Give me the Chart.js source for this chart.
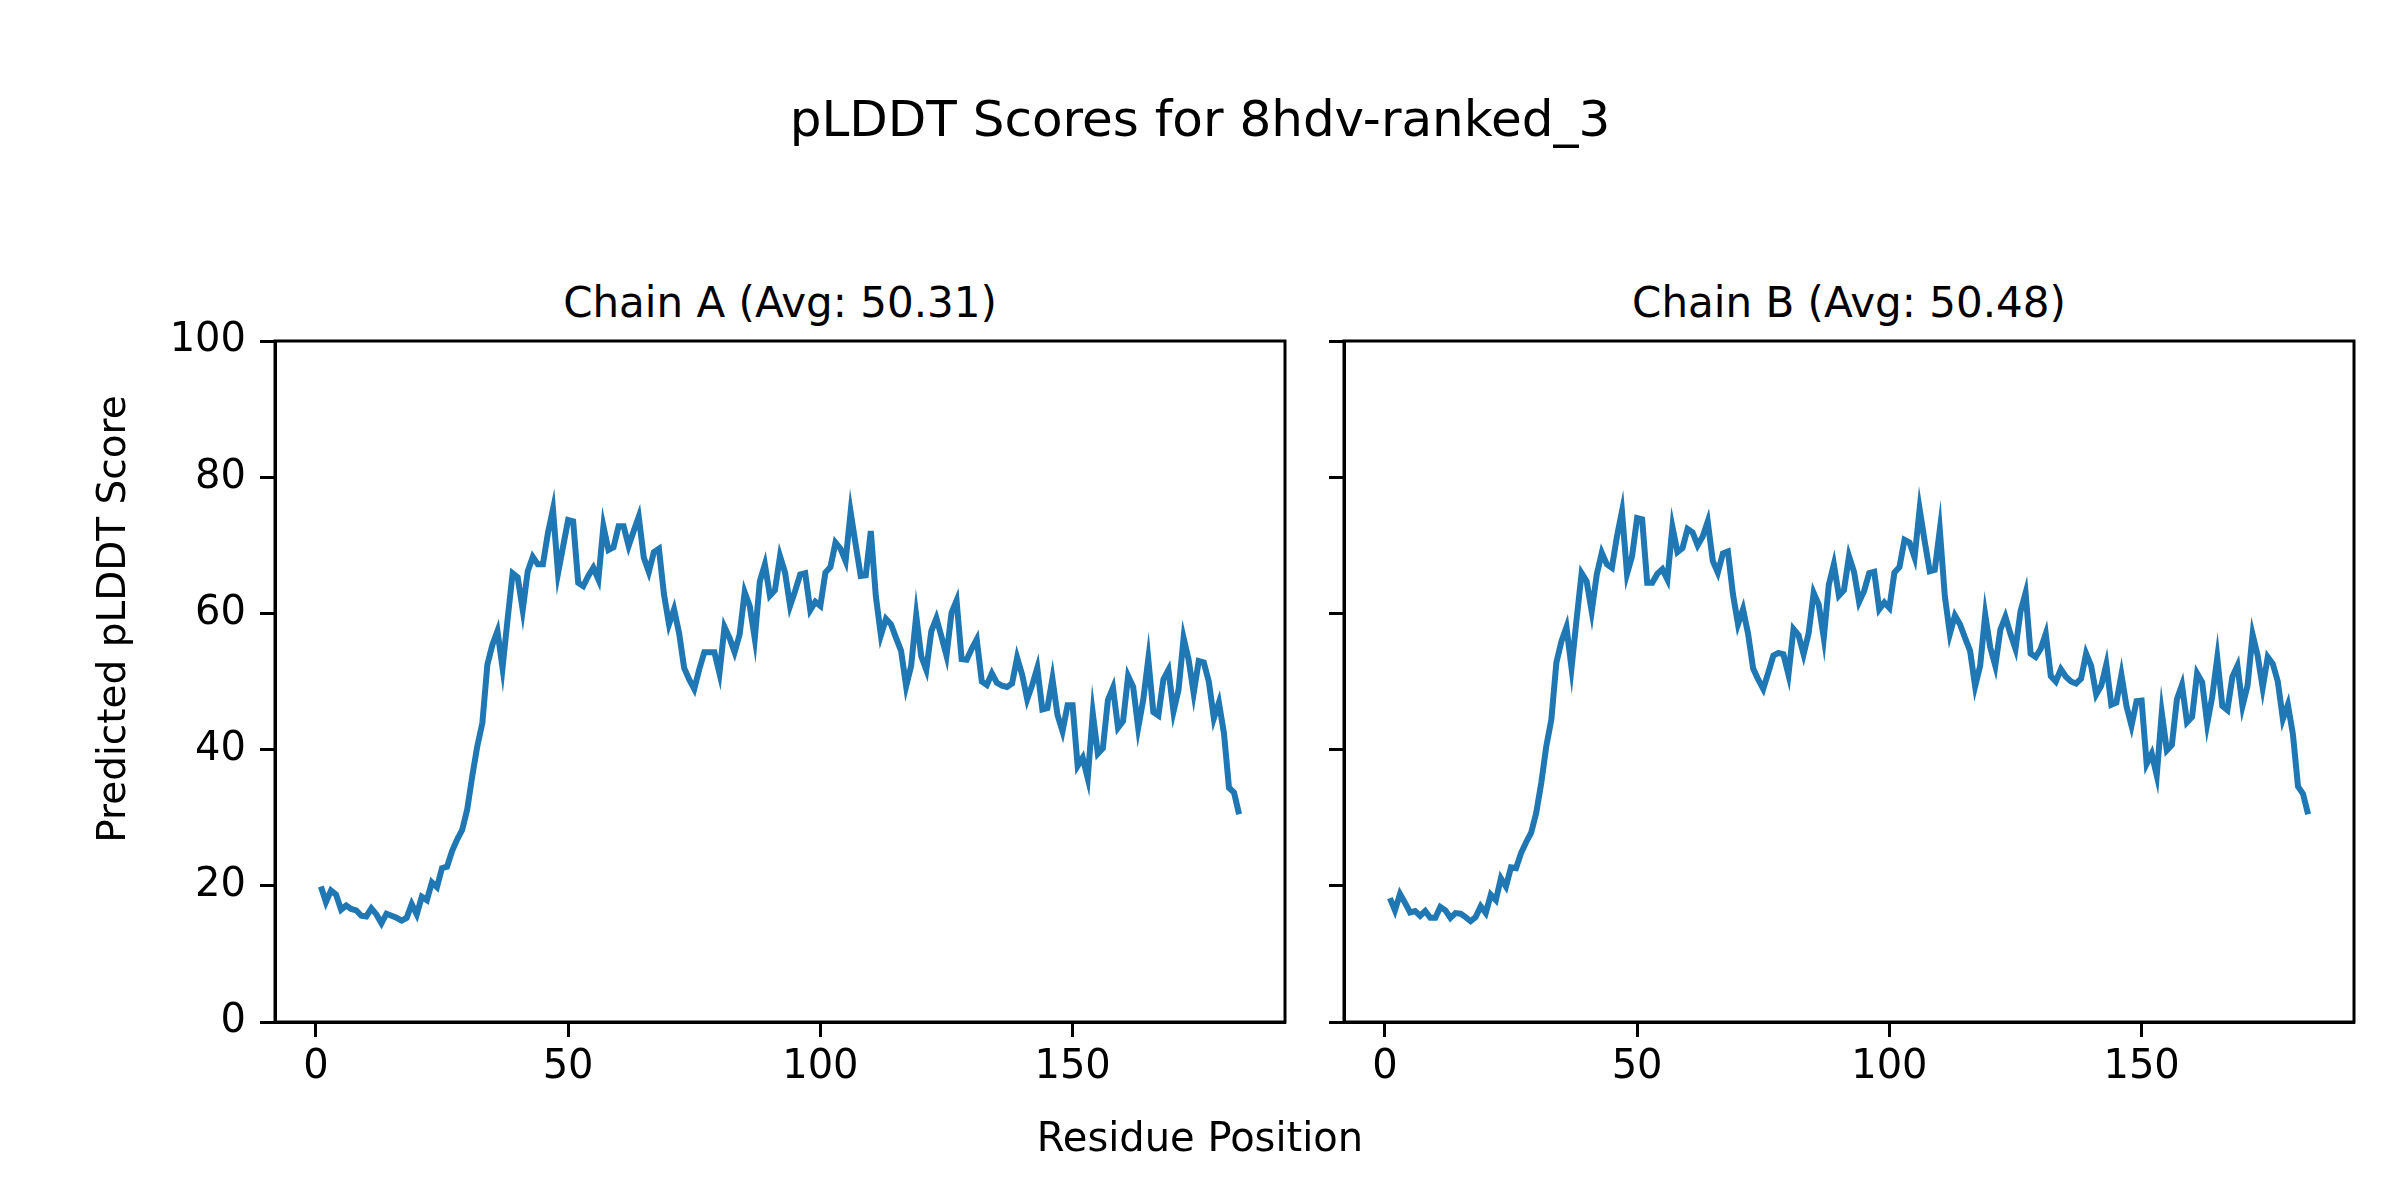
<!DOCTYPE html>
<html>
<head>
<meta charset="utf-8">
<script src="https://cdn.jsdelivr.net/npm/chart.js@4.4.1/dist/chart.umd.min.js"></script>
<style>
  body { margin: 0; background: #ffffff; width: 2400px; height: 1200px; position: relative; overflow: hidden; font-family: "DejaVu Sans", sans-serif; color: #000; }
  canvas { position: absolute; top: 0; }
  #chartA { left: 0; }
  #chartB { left: 1310px; }
  .txt { position: absolute; text-align: center; white-space: nowrap; }
  #suptitle { left: 0; width: 2400px; top: 89px; line-height: 60px; font-size: 50px; }
  .sub { width: 800px; top: 278px; line-height: 50px; font-size: 42px; }
  #titleA { left: 380px; }
  #titleB { left: 1449px; }
  #xlabel { left: 0; width: 2400px; top: 1112px; line-height: 50px; font-size: 40px; }
  #ylabel { left: -288px; width: 800px; top: 594px; line-height: 50px; font-size: 39px; transform: rotate(-90deg); }
</style>
</head>
<body>
<div id="suptitle" class="txt">pLDDT Scores for 8hdv-ranked_3</div>
<div id="titleA" class="txt sub">Chain A (Avg: 50.31)</div>
<div id="titleB" class="txt sub">Chain B (Avg: 50.48)</div>
<canvas id="chartA" width="1310" height="1200"></canvas>
<canvas id="chartB" width="1090" height="1200"></canvas>
<div id="xlabel" class="txt">Residue Position</div>
<div id="ylabel" class="txt">Predicted pLDDT Score</div>
<script>
Chart.defaults.font.family = "'DejaVu Sans', sans-serif";
Chart.defaults.color = "#000000";

// pLDDT per residue
var chainA = [
  19.9, 17.6, 19.3, 18.7, 16.5, 17.1, 16.6, 16.4, 15.6, 15.5,
  16.7, 15.8, 14.5, 15.9, 15.6, 15.3, 14.9, 15.3, 17.3, 15.8,
  18.4, 17.9, 20.5, 19.8, 22.6, 22.8, 25.1, 26.8, 28.2, 31.2,
  36.1, 40.5, 43.9, 52.5, 55.4, 57.4, 52.0, 59.1, 65.9, 65.3,
  60.5, 66.2, 68.3, 67.2, 67.2, 71.8, 75.3, 65.9, 69.8, 73.7,
  73.5, 64.5, 64.0, 65.5, 66.7, 65.0, 72.8, 69.3, 69.7, 72.8,
  72.8, 69.9, 72.1, 74.2, 68.2, 66.1, 69.0, 69.5, 62.8, 58.4,
  60.6, 57.1, 52.0, 50.3, 48.9, 51.8, 54.3, 54.3, 54.3, 51.2,
  58.0, 56.4, 54.3, 56.9, 63.1, 61.1, 56.3, 64.7, 67.2, 62.6,
  63.4, 68.4, 66.0, 61.1, 63.3, 65.7, 65.9, 60.5, 61.7, 61.1,
  66.0, 66.8, 70.4, 69.5, 67.7, 74.9, 70.1, 65.5, 65.6, 72.1,
  62.5, 56.8, 59.2, 58.4, 56.4, 54.5, 49.3, 52.3, 59.7, 53.7,
  51.7, 57.4, 59.3, 56.6, 53.8, 60.1, 61.9, 53.3, 53.2, 54.8,
  56.2, 50.0, 49.5, 51.2, 49.8, 49.4, 49.2, 49.7, 53.5, 51.0,
  47.4, 49.5, 52.0, 45.9, 46.1, 50.4, 45.1, 42.7, 46.5, 46.5,
  37.6, 38.8, 35.8, 45.3, 39.4, 40.2, 47.3, 49.1, 43.2, 44.2,
  50.8, 49.2, 43.2, 47.3, 53.3, 45.5, 45.0, 50.3, 51.7, 45.6,
  48.8, 56.4, 53.2, 48.3, 53.0, 52.8, 50.0, 44.6, 46.9, 42.4,
  34.4, 33.7, 30.5
];
var chainB = [
  18.2, 16.4, 18.8, 17.5, 16.1, 16.3, 15.6, 16.3, 15.3, 15.3,
  16.9, 16.4, 15.3, 16.0, 15.9, 15.4, 14.8, 15.4, 17.0, 16.0,
  18.7, 17.9, 21.1, 19.9, 22.7, 22.6, 24.8, 26.4, 27.8, 30.7,
  35.1, 40.5, 44.4, 52.8, 55.9, 58.0, 52.0, 59.1, 65.9, 64.7,
  60.3, 65.7, 68.9, 67.2, 66.7, 71.3, 75.0, 65.8, 68.4, 74.0,
  73.8, 64.5, 64.5, 65.8, 66.5, 65.0, 72.7, 69.0, 69.6, 72.4,
  71.9, 70.0, 71.3, 73.5, 67.7, 66.0, 68.8, 69.1, 62.8, 58.4,
  60.6, 57.0, 51.9, 50.3, 48.9, 51.3, 53.8, 54.2, 54.0, 51.0,
  57.7, 56.8, 54.0, 57.1, 63.0, 61.3, 56.4, 64.2, 67.2, 62.6,
  63.4, 68.4, 66.1, 61.7, 63.3, 65.9, 66.1, 60.6, 61.6, 60.8,
  66.0, 66.8, 70.8, 70.4, 68.2, 75.3, 70.6, 66.2, 66.4, 72.3,
  62.5, 57.0, 59.7, 58.4, 56.4, 54.5, 49.3, 52.3, 59.8, 55.0,
  52.3, 57.6, 59.5, 57.0, 54.8, 60.3, 63.0, 54.1, 53.6, 54.8,
  57.0, 50.8, 50.0, 51.8, 50.7, 50.0, 49.7, 50.4, 54.1, 52.3,
  48.1, 49.4, 52.5, 46.6, 46.9, 51.0, 46.4, 43.5, 47.1, 47.2,
  37.9, 39.4, 36.2, 45.4, 39.9, 40.7, 47.4, 49.5, 44.0, 44.8,
  51.2, 49.9, 43.8, 47.8, 53.5, 46.4, 45.8, 50.7, 52.3, 46.4,
  49.4, 56.9, 53.8, 49.1, 53.6, 52.6, 50.0, 44.5, 46.6, 42.2,
  34.6, 33.5, 30.5
];
// residue numbers start at 1
var residues = chainA.map(function (v, i) { return i + 1; });
var xTicks = [0, 50, 100, 150];
var yTicks = [0, 20, 40, 60, 80, 100];

// box around the plot area, like matplotlib spines
var frame = {
  id: "frame",
  afterDatasetsDraw: function (chart) {
    var a = chart.chartArea;
    var ctx = chart.ctx;
    ctx.save();
    ctx.strokeStyle = "#000000";
    ctx.lineWidth = 3;
    ctx.strokeRect(a.left, a.top, a.right - a.left, a.bottom - a.top);
    ctx.restore();
  }
};

function makeChart(id, values, showY, yWidth, padRight) {
  return new Chart(document.getElementById(id), {
    type: "line",
    data: {
      datasets: [{
        data: values.map(function (v, i) { return { x: residues[i], y: v }; }),
        borderColor: "#1f77b4",
        borderWidth: 6,
        pointRadius: 0,
        tension: 0,
        fill: false
      }]
    },
    options: {
      responsive: false,
      animation: false,
      layout: { padding: { top: 341, right: padRight, bottom: 0, left: 0 } },
      plugins: { legend: { display: false }, tooltip: { enabled: false } },
      scales: {
        x: {
          type: "linear",
          min: -8.1,
          max: 192.1,
          afterBuildTicks: function (s) { s.ticks = xTicks.map(function (v) { return { value: v }; }); },
          afterFit: function (s) { s.height = 178; },
          ticks: { font: { size: 40 }, padding: 7, maxRotation: 0, autoSkip: false },
          grid: { drawOnChartArea: false, tickLength: 15, tickWidth: 3, tickColor: "#000000" },
          border: { color: "#000000", width: 3 }
        },
        y: {
          min: 0,
          max: 100,
          afterBuildTicks: function (s) { s.ticks = yTicks.map(function (v) { return { value: v }; }); },
          afterFit: function (s) { s.width = yWidth; },
          ticks: {
            font: { size: 40 },
            padding: 14,
            autoSkip: false,
            callback: function (v) { return showY ? String(v) : ""; }
          },
          grid: { drawOnChartArea: false, tickLength: 15, tickWidth: 3, tickColor: "#000000" },
          border: { color: "#000000", width: 3 }
        }
      }
    },
    plugins: [frame]
  });
}

makeChart("chartA", chainA, true, 275, 25);
makeChart("chartB", chainB, false, 34, 46);
</script>
</body>
</html>
